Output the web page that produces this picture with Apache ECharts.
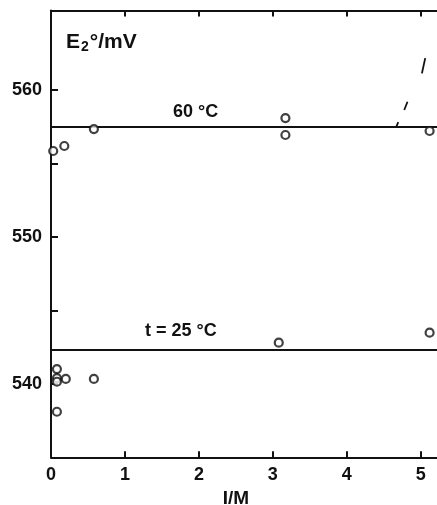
<!DOCTYPE html>
<html>
<head>
<meta charset="utf-8">
<script src="https://cdn.jsdelivr.net/npm/echarts@6/dist/echarts.min.js"></script>
<style>
html,body{margin:0;padding:0;background:#fff;}
#c{width:437px;height:505px;}
</style>
</head>
<body>
<div id="c"></div>
<script>
// Data (x = I / M, y = E2° / mV)
const xTicks = [0, 1, 2, 3, 4, 5];
const yTickValues = [540, 545, 550, 555, 560];
const yLabelValues = [540, 550, 560];
const pts60 = [[0.03, 555.84], [0.18, 556.18], [0.58, 557.33], [3.17, 558.08], [3.17, 556.93], [5.12, 557.2]];
const pts25 = [[0.08, 541.0], [0.08, 540.39], [0.08, 540.14], [0.2, 540.33], [0.58, 540.33], [0.08, 538.1], [3.08, 542.8], [5.12, 543.48]];
const level60 = 557.47;
const level25 = 542.3;
const xMin = 0, xMax = 5.22;
const yMin = 535, yMax = 565.4;
const dashSegments = [
  [[5.061, 562.16], [5.016, 561.12]],
  [[4.821, 559.19], [4.777, 558.63]],
  [[4.696, 557.81], [4.668, 557.47]]
];

const FONT = 'Liberation Sans';
const W = 'bold';
const ink = '#111';
const chart = echarts.init(document.getElementById('c'), null, {renderer: 'canvas'});

const axisLineStyle = {color: ink, width: 2};

chart.setOption({
  animation: false,
  backgroundColor: '#fff',
  grid: {left: 51, top: 10.5, right: 0, bottom: 47.7, containLabel: false, outerBoundsMode: 'none'},
  xAxis: [{
    type: 'value', min: xMin, max: xMax, position: 'bottom',
    axisLine: {show: true, onZero: false, lineStyle: axisLineStyle},
    axisTick: {show: true, inside: true, length: 6, customValues: xTicks.slice(1), lineStyle: {color: ink, width: 2}},
    axisLabel: {show: true, customValues: xTicks, margin: 9, fontFamily: FONT, fontWeight: W, fontSize: 18, color: ink},
    splitLine: {show: false},
    name: 'I/M', nameLocation: 'middle', nameGap: 27,
    nameTextStyle: {fontFamily: FONT, fontWeight: W, fontSize: 19, color: ink, padding: [0, 16, 0, 0]}
  }, {
    type: 'value', min: xMin, max: xMax, position: 'top',
    axisLine: {show: true, onZero: false, lineStyle: axisLineStyle},
    axisTick: {show: true, inside: true, length: 6, customValues: xTicks.slice(1), lineStyle: {color: ink, width: 2}},
    axisLabel: {show: false},
    splitLine: {show: false}
  }],
  yAxis: [{
    type: 'value', min: yMin, max: yMax, position: 'left',
    axisLine: {show: true, onZero: false, lineStyle: axisLineStyle},
    axisTick: {show: true, inside: true, length: 7, customValues: yTickValues, lineStyle: {color: ink, width: 2}},
    axisLabel: {show: true, customValues: yLabelValues, margin: 9, fontFamily: FONT, fontWeight: W, fontSize: 18, color: ink},
    splitLine: {show: false}
  }],
  graphic: [
    {type: 'text', left: 66, top: 32, style: {
      text: '{a|E}{b|2}{a|°/mV}',
      rich: {
        a: {fontFamily: FONT, fontWeight: W, fontSize: 21, fill: ink},
        b: {fontFamily: FONT, fontWeight: W, fontSize: 14, fill: ink, verticalAlign: 'bottom', padding: [9, 1, 0, 1]}
      }
    }},
    {type: 'text', left: 173, top: 103, style: {text: '60 °C', fontFamily: FONT, fontWeight: W, fontSize: 18, fill: ink}},
    {type: 'text', left: 145, top: 322, style: {text: 't = 25 °C', fontFamily: FONT, fontWeight: W, fontSize: 18, fill: ink}}
  ],
  series: [
    {type: 'line', data: [[xMin, level60], [xMax, level60]], symbol: 'none', lineStyle: {color: ink, width: 2}, z: 2},
    {type: 'line', data: [[xMin, level25], [xMax, level25]], symbol: 'none', lineStyle: {color: ink, width: 2}, z: 2},
    {type: 'lines', coordinateSystem: 'cartesian2d',
      data: dashSegments.map(s => ({coords: s})),
      lineStyle: {color: ink, width: 1.8, opacity: 1}, z: 2},
    {type: 'scatter', data: pts60, symbol: 'circle', symbolSize: 8,
      itemStyle: {color: '#fff', borderColor: ink, borderWidth: 2.2}, z: 3},
    {type: 'scatter', data: pts25, symbol: 'circle', symbolSize: 8,
      itemStyle: {color: '#fff', borderColor: ink, borderWidth: 2.2}, z: 3}
  ]
});
</script>
</body>
</html>
